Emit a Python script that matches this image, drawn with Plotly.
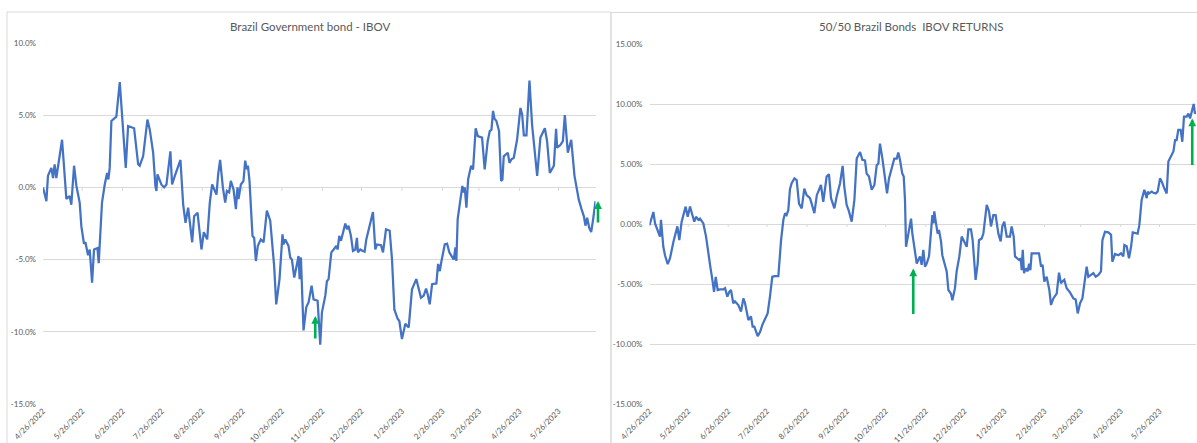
import pandas as pd
import plotly.graph_objects as go

# ---------------- data ----------------
start_date = "2022-04-26"

# Brazil Government bond - IBOV (days since 4/26/2022, % return)
bond_days = [0, 2.6, 3.8, 6.4, 7.7, 8.9, 10.2, 12.0, 14.6, 17.9, 20.4, 21.7, 23.8, 25.6, 28.1, 29.4,
             31.4, 32.5, 34.5, 35.8, 37.6, 39.1, 41.7, 42.7, 45.2, 47.3, 49.1, 50.1, 51.1, 52.4, 56.2,
             58.8, 60.8, 63.4, 65.2, 69.8, 72.9, 74.1, 76.7, 80.0, 81.8, 84.4, 86.1, 86.9, 87.7, 89.5,
             90.7, 92.8, 94.6, 97.6, 98.9, 101.0, 105.3, 107.4, 109.2, 111.2, 114.3, 115.8, 118.4,
             121.4, 123.2, 125.8, 127.8, 129.6, 132.9, 134.2, 135.7, 137.8, 139.6, 140.9, 142.6,
             143.9, 146.0, 147.8, 149.0, 149.8, 151.6, 153.6, 154.9, 156.2, 157.0, 158.2, 160.5,
             161.8, 163.1, 164.6, 166.9, 169.0, 171.5, 174.1, 177.1, 178.7, 181.2, 183.5, 184.3,
             185.6, 188.1, 189.4, 190.7, 192.5, 195.8, 196.6, 197.6, 199.6, 201.7, 203.5, 205.8,
             207.3, 210.4, 212.4, 213.7, 216.3, 217.5, 218.8, 220.9, 222.7, 224.7, 225.7, 227.0,
             228.3, 229.8, 231.6, 232.9, 234.1, 235.9, 237.5, 239.3, 240.5, 241.3, 243.1, 245.1,
             246.4, 247.7, 250.8, 252.8, 254.6, 255.9, 259.0, 260.5, 262.8, 265.6, 267.4, 269.2,
             271.7, 273.0, 275.0, 276.8, 277.6, 280.2, 282.7, 286.0, 287.8, 289.6, 291.7, 293.5,
             294.7, 296.3, 298.1, 301.4, 302.7, 304.0, 305.2, 307.8, 309.6, 311.3, 314.7, 316.0,
             316.7, 317.7, 319.8, 321.3, 322.3, 323.1, 324.4, 325.7, 328.0, 329.5, 331.5, 333.1,
             336.4, 338.4, 340.7, 342.3, 343.6, 344.8, 345.9, 347.4, 349.4, 351.0, 352.0, 353.0,
             356.1, 357.4, 358.9, 360.7, 363.2, 365.8, 367.1, 368.4, 370.4, 372.7, 374.7, 378.6,
             381.1, 384.5, 386.2, 388.3, 391.4, 393.1, 393.9, 396.5, 398.3, 399.8, 402.1, 404.7,
             407.2, 408.7, 410.5, 412.6, 414.4, 415.6, 416.9, 418.5, 420.0, 421.5, 423.3]
bond_ret = [0.0, -0.95, 0.8, 1.35, 0.65, 1.6, 0.65, 1.7, 3.3, -0.8, -0.6, -1.2, 1.5, 0.1, -1.05, -2.7,
            -3.9, -3.8, -4.7, -4.3, -6.6, -4.3, -4.2, -5.25, -1.05, 0.2, 1.0, 0.55, 1.35, 4.6, 4.9,
            7.3, 4.6, 1.35, 4.25, 4.1, 1.6, 1.5, 2.15, 4.7, 4.0, 2.4, 0.1, -0.25, 0.9, 0.45,
            0.2, 0.0, 0.2, 2.5, 0.2, 0.8, 1.9, -1.2, -2.45, -1.4, -3.8, -2.0, -1.75,
            -4.3, -3.1, -3.6, -1.05, 0.2, -0.5, 0.9, 1.9, 0.0, -1.05, -0.25, -0.35,
            0.45, -0.15, -1.5, 0.0, -0.8, 0.2, 0.45, 1.85, 1.25, 1.5, 0.45, -3.35,
            -3.5, -5.1, -4.05, -3.6, -3.8, -1.6, -2.3, -5.45, -8.1, -6.35, -3.25, -3.95,
            -3.6, -4.05, -4.85, -5.0, -6.25, -4.75, -6.35, -4.85, -9.9, -8.3, -7.95, -6.8,
            -7.75, -7.85, -10.9, -8.65, -7.5, -6.5, -6.35, -4.5, -4.3, -4.05, -4.3, -3.35,
            -3.7, -3.15, -2.5, -2.9, -2.65, -3.35, -4.4, -4.3, -3.5, -4.5, -4.3, -4.4,
            -4.45, -3.6, -2.3, -1.7, -4.3, -3.95, -4.0, -4.5, -2.9, -3.0, -5.0, -8.45,
            -9.1, -9.25, -10.5, -9.6, -9.45, -9.7, -7.05, -6.35, -6.95, -7.65, -7.5, -7.0,
            -7.4, -8.1, -6.7, -6.65, -5.3, -5.8, -5.15, -3.95, -3.9, -4.5, -5.0, -4.15,
            -5.1, -2.2, -0.85, 0.1, -0.35, 0.0, -1.4, 0.55, 1.5, 1.25, 4.1, 3.55,
            3.45, 1.25, 3.2, 3.9, 4.0, 5.3, 4.75, 4.6, 3.9, 0.45, 0.55, 2.15,
            2.4, 1.7, 1.95, 2.05, 3.3, 5.5, 5.05, 3.6, 3.6, 7.4, 4.35, 0.8,
            3.45, 4.1, 3.2, 1.0, 1.5, 4.05, 2.75, 2.95, 3.2, 5.0, 2.4, 3.3,
            0.8, 0.0, -0.85, -1.5, -2.0, -2.65, -2.1, -2.8, -3.1, -2.2, -0.95]

# 50/50 Brazil Bonds IBOV RETURNS (days since 4/26/2022, % return)
mix_days = [0, 3.0, 4.3, 6.8, 8.1, 8.9, 10.7, 12.0, 14.1, 15.9, 18.5, 21.6, 23.1, 24.9, 28.0, 29.6,
            31.4, 33.2, 34.7, 36.0, 37.8, 39.1, 41.7, 43.8, 45.1, 46.9, 48.7, 50.0, 51.3, 52.8,
            54.6, 57.2, 58.5, 60.3, 61.8, 63.1, 64.9, 66.2, 68.8, 70.9, 72.7, 74.0, 76.6, 78.6,
            79.9, 81.2, 83.8, 85.6, 87.4, 89.5, 91.5, 93.3, 95.1, 97.2, 99.8, 101.9, 103.7, 105.0,
            106.2, 107.5, 108.8, 110.1, 112.2, 114.0, 115.8, 117.9, 119.9, 121.7, 124.3, 125.6,
            127.7, 129.6, 132.8, 134.6, 137.2, 139.0, 140.6, 143.2, 145.0, 147.6, 149.6, 150.9,
            152.7, 154.5, 156.6, 158.7, 160.5, 163.1, 164.9, 166.9, 168.2, 170.0, 172.1, 174.2,
            176.0, 177.3, 178.5, 180.4, 181.9, 184.0, 185.5, 187.6, 189.6, 191.5, 192.7, 194.0,
            195.8, 196.9, 197.9, 198.7, 200.5, 202.6, 203.6, 205.1, 207.0, 208.2, 209.5, 210.8,
            212.1, 213.4, 214.7, 216.5, 218.0, 219.1, 219.9, 220.6, 221.7, 223.2, 224.2, 225.8,
            226.8, 228.4, 230.2, 231.5, 233.5, 234.6, 236.6, 237.9, 240.0, 241.8, 243.9, 245.7,
            247.0, 249.0, 250.3, 252.6, 254.2, 255.2, 257.3, 258.6, 261.2, 263.0, 264.5, 266.3,
            268.1, 270.2, 272.0, 273.3, 274.8, 276.7, 279.2, 280.5, 282.1, 283.1, 286.2, 287.5,
            288.3, 289.1, 290.1, 291.4, 292.9, 294.0, 295.0, 296.0, 298.6, 301.7, 303.3, 304.5,
            305.8, 307.6, 309.7, 311.0, 312.8, 315.4, 317.2, 318.7, 319.8, 321.3, 323.1, 325.7,
            328.3, 330.1, 331.7, 333.5, 335.3, 336.8, 338.6, 339.9, 342.0, 343.8, 345.6, 347.7,
            349.7, 350.8, 352.8, 355.4, 357.5, 358.5, 360.6, 363.2, 365.2, 367.0, 367.8, 369.6,
            371.4, 373.0, 374.3, 376.6, 378.1, 379.4, 381.2, 383.3, 385.1, 385.9, 386.9, 389.0,
            390.3, 392.1, 393.6, 395.4, 396.7, 398.8, 400.6, 401.9, 404.0, 405.8, 407.1, 408.3,
            409.6, 411.4, 412.7, 414.0, 416.1, 417.4, 418.7, 420.5, 421.5, 422.5, 423.3]
mix_ret = [-0.1, 1.0, 0.05, -0.65, -1.05, 0.35, -1.9, -2.6, -3.35, -2.85, -1.5, -0.2, -1.35, 0.2, 1.45, 0.6,
           1.45, 0.75, 0.2, 0.6, 0.35, 0.45, 0.05, -1.05, -1.9, -3.4, -4.65, -5.65, -4.4, -5.5,
           -5.45, -5.45, -5.35, -6.05, -5.65, -5.5, -6.6, -6.45, -6.75, -7.3, -6.2, -6.6, -8.0, -7.7,
           -8.55, -8.55, -9.35, -9.0, -8.4, -7.85, -7.45, -6.05, -4.4, -4.35, -4.35, -1.35, 0.35, 0.9,
           0.75, 1.15, 2.9, 3.4, 3.8, 3.65, 1.7, 1.3, 2.95, 2.4, 2.15, 1.7,
           0.9, 2.4, 3.25, 1.85, 3.95, 4.15, 2.15, 1.3, 2.3, 3.4, 4.85, 3.1,
           1.6, 1.05, 0.2, 2.0, 5.45, 6.0, 5.35, 5.3, 4.2, 3.95, 2.85, 3.25,
           4.9, 5.05, 6.7, 5.45, 4.35, 2.55, 3.8, 4.65, 5.45, 5.45, 5.95, 5.35,
           4.2, 3.95, 2.0, -1.9, -0.8, 0.45, -0.8, -1.9, -3.3, -3.0, -2.7, -3.4,
           -2.15, -3.55, -3.3, -2.7, -0.5, 0.75, 0.05, 1.05, 0.2, -0.8, -0.5, -1.45,
           -2.6, -3.3, -3.95, -5.5, -5.8, -6.35, -5.35, -3.95, -2.7, -1.05, -1.45, -1.9,
           -0.45, -0.45, -1.35, -4.65, -3.3, -1.35, -1.2, -0.8, 1.6, 1.05, -0.2, 0.75,
           0.75, -0.8, -1.45, -0.2, 0.2, -1.05, -1.05, -0.2, -1.05, -2.7, -3.0, -2.85,
           -3.85, -2.15, -4.1, -3.7, -3.95, -3.3, -3.85, -2.45, -2.45, -2.45, -3.55, -3.4,
           -4.8, -4.4, -5.5, -6.75, -6.2, -5.8, -4.05, -4.95, -4.8, -4.65, -5.35, -5.7,
           -6.2, -6.3, -7.45, -6.6, -6.2, -4.95, -3.55, -4.4, -4.25, -4.1, -4.4, -4.25,
           -3.95, -1.35, -0.65, -0.7, -0.9, -3.15, -2.5, -2.6, -2.45, -2.7, -1.75, -1.85,
           -2.85, -1.9, -0.7, -0.8, -0.8, -0.1, 2.0, 2.85, 2.15, 2.7, 2.55, 2.7,
           2.6, 2.55, 2.7, 3.8, 3.55, 2.95, 2.55, 5.2, 5.6, 6.05, 7.0, 7.0,
           7.85, 7.85, 6.85, 8.95, 8.95, 9.2, 8.8, 9.5, 10.0, 9.2, 9.35]

x_tick_labels = ["4/26/2022", "5/26/2022", "6/26/2022", "7/26/2022", "8/26/2022", "9/26/2022",
                 "10/26/2022", "11/26/2022", "12/26/2022", "1/26/2023", "2/26/2023", "3/26/2023",
                 "4/26/2023", "5/26/2023"]
left_y_ticks = [-15, -10, -5, 0, 5, 10]
left_y_labels = ["-15.0%", "-10.0%", "-5.0%", "0.0%", "5.0%", "10.0%"]
right_y_ticks = [-15, -10, -5, 0, 5, 10, 15]
right_y_labels = ["-15.00%", "-10.00%", "-5.00%", "0.00%", "5.00%", "10.00%", "15.00%"]

left_title = "Brazil Government bond - IBOV"
right_title = "50/50 Brazil Bonds  IBOV RETURNS"

# green arrows: (days since start, tip value %)
left_arrow_days, left_arrow_tip = 208.6, -8.9
left_edge_arrow_tip = -0.95
right_arrows_days = [204.3, 420.4]
right_arrows_tip = [-3.7, 8.8]

# ---------------- build ----------------
W, H = 1197, 443
t0 = pd.Timestamp(start_date)
to_date = lambda d: t0 + pd.to_timedelta(d, unit="D")
bond_x = [to_date(d) for d in bond_days]
mix_x = [to_date(d) for d in mix_days]
tick_dates = pd.to_datetime(x_tick_labels, format="%m/%d/%Y")
x_end = to_date(max(bond_days[-1], mix_days[-1]))

LINE = "#4472C4"
GRID = "#D9D9D9"
TXT = "#595959"
GREEN = "#00B050"
FONT = "Lato"

fig = go.Figure()
fig.add_trace(go.Scatter(x=bond_x, y=bond_ret, mode="lines", line=dict(color=LINE, width=2.25),
                         xaxis="x", yaxis="y", showlegend=False, hoverinfo="skip"))
fig.add_trace(go.Scatter(x=mix_x, y=mix_ret, mode="lines", line=dict(color=LINE, width=2.25),
                         xaxis="x2", yaxis="y2", showlegend=False, hoverinfo="skip"))

def px(v):
    return v / W

def py(v):
    return (H - v) / H

xcommon = dict(type="date", range=[t0, x_end], tickmode="array", tickvals=list(tick_dates),
               ticktext=x_tick_labels, tickangle=-45, showgrid=False, zeroline=False,
               showline=False, ticks="", tickfont=dict(family=FONT, size=8, color=TXT),
               automargin=False, fixedrange=True)
ycommon = dict(showgrid=True, gridcolor=GRID, gridwidth=1, zeroline=False, showline=False,
               ticks="", tickfont=dict(family=FONT, size=8, color=TXT), automargin=False,
               tickmode="array", ticklabelstandoff=6)

fig.update_layout(
    width=W, height=H,
    margin=dict(l=0, r=0, t=0, b=0),
    paper_bgcolor="white", plot_bgcolor="white",
    xaxis=dict(domain=[px(43), px(595.5)], anchor="y", **xcommon),
    yaxis=dict(domain=[py(404), py(43)], anchor="x", range=[-15, 10],
               tickvals=left_y_ticks, ticktext=left_y_labels, **ycommon),
    xaxis2=dict(domain=[px(649.5), px(1196)], anchor="y2", **xcommon),
    yaxis2=dict(domain=[py(404), py(44)], anchor="x2", range=[-15, 15],
                tickvals=right_y_ticks, ticktext=right_y_labels, **ycommon),
)

shapes = [
    dict(type="rect", xref="paper", yref="paper", x0=px(7), x1=px(611), y0=-0.05, y1=py(12),
         line=dict(color=GRID, width=1), fillcolor="rgba(0,0,0,0)", layer="below"),
    dict(type="rect", xref="paper", yref="paper", x0=px(611), x1=1.05, y0=-0.05, y1=py(12.5),
         line=dict(color=GRID, width=1), fillcolor="rgba(0,0,0,0)", layer="below"),
]
for td in tick_dates:
    shapes.append(dict(type="line", xref="x", yref="y", x0=td, x1=td, y0=0, y1=-0.25,
                       line=dict(color=GRID, width=1), layer="below"))
    shapes.append(dict(type="line", xref="x2", yref="y2", x0=td, x1=td, y0=0, y1=-0.25,
                       line=dict(color=GRID, width=1), layer="below"))
fig.update_layout(shapes=shapes)

ann = [
    dict(text=left_title, xref="paper", yref="paper", x=px(310), y=py(26), showarrow=False,
         font=dict(family=FONT, size=11.5, color=TXT), xanchor="center", yanchor="middle"),
    dict(text=right_title, xref="paper", yref="paper", x=px(911), y=py(27), showarrow=False,
         font=dict(family=FONT, size=11.5, color=TXT), xanchor="center", yanchor="middle"),
]
arrow_style = dict(showarrow=True, arrowhead=2, arrowsize=0.6, arrowwidth=2.6, arrowcolor=GREEN,
                   axref="pixel", ayref="pixel", ax=0, text="", standoff=0)
ann.append(dict(x=to_date(left_arrow_days), y=left_arrow_tip, xref="x", yref="y", ay=24, **arrow_style))
ann.append(dict(x=px(598), y=left_edge_arrow_tip, xref="paper", yref="y", ay=23, **arrow_style))
for d, v, L in zip(right_arrows_days, right_arrows_tip, [47, 48]):
    ann.append(dict(x=to_date(d), y=v, xref="x2", yref="y2", ay=L, **arrow_style))
fig.update_layout(annotations=ann)

fig.write_html("out.html")
